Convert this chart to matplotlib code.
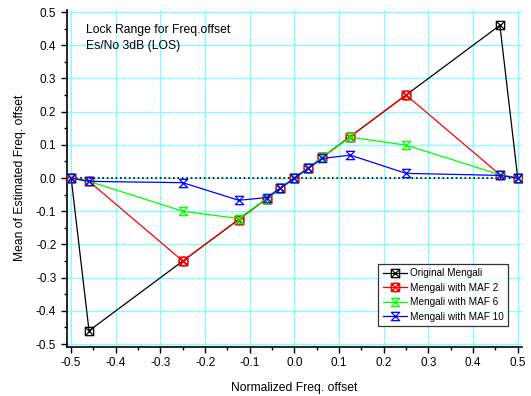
import numpy as np
import matplotlib.pyplot as plt
from matplotlib.path import Path

plt.rcParams['font.family'] = ['Liberation Sans', 'DejaVu Sans']

x = [-0.5, -0.46, -0.25, -0.125, -0.0625, -0.03125, 0.0, 0.03125, 0.0625, 0.125, 0.25, 0.46, 0.5]

orig = [0.0, -0.46, -0.25, -0.125, -0.0625, -0.03125, 0.0, 0.03125, 0.0625, 0.125, 0.25, 0.46, 0.0]
maf2 = [0.0, -0.01, -0.25, -0.125, -0.0625, -0.03125, 0.0, 0.03125, 0.0625, 0.125, 0.25, 0.01, 0.0]
maf6 = [0.0, -0.01, -0.10, -0.122, -0.0625, -0.03125, 0.0, 0.03125, 0.0625, 0.123, 0.099, 0.01, 0.0]
maf10 = [0.0, -0.01, -0.014, -0.067, -0.059, -0.03, 0.0, 0.029, 0.059, 0.069, 0.014, 0.008, 0.0]

labels = ['Original Mengali', 'Mengali with MAF 2', 'Mengali with MAF 6', 'Mengali with MAF 10']
colors = ['black', '#ff0000', '#00ff00', '#0000ff']

ticks = [-0.5, -0.4, -0.3, -0.2, -0.1, 0.0, 0.1, 0.2, 0.3, 0.4, 0.5]
tick_labels = ['-0.5', '-0.4', '-0.3', '-0.2', '-0.1', '0.0', '0.1', '0.2', '0.3', '0.4', '0.5']

# custom marker shapes
sq = [(-1, -1), (1, -1), (1, 1), (-1, 1), (-1, -1)]
square_x = Path(sq + [(-1, -1), (1, 1), (-1, 1), (1, -1)],
                [Path.MOVETO] + [Path.LINETO] * 4 + [Path.MOVETO, Path.LINETO, Path.MOVETO, Path.LINETO])
circ = Path.unit_circle()
cross = Path([(-0.75, -0.75), (0.75, 0.75), (-0.75, 0.75), (0.75, -0.75)],
             [Path.MOVETO, Path.LINETO, Path.MOVETO, Path.LINETO])
sq_frame = Path(sq, [Path.MOVETO] + [Path.LINETO] * 4)
circle_x = Path.make_compound_path(sq_frame, circ, cross)
hourglass = Path([(-1, 1), (1, 1), (-1, -1), (1, -1), (-1, 1)],
                 [Path.MOVETO, Path.LINETO, Path.LINETO, Path.LINETO, Path.LINETO])
markers = [square_x, circle_x, hourglass, hourglass]

fig = plt.figure(figsize=(5.31, 3.96), dpi=100)
ax = fig.add_axes([0.1256, 0.1245, 0.857, 0.851])

ax.plot([-0.51, 0.509], [0, 0], color='black', linestyle=':', linewidth=1.2, zorder=2)

for ys, lab, c, m in zip([orig, maf2, maf6, maf10], labels, colors, markers):
    ax.plot(x, ys, color=c, linewidth=0.9, marker=m, markersize=6,
            markerfacecolor='none', markeredgecolor=c, markeredgewidth=0.9,
            label=lab, zorder=3)

ax.set_xlim(-0.51, 0.509)
ax.set_ylim(-0.508, 0.507)
ax.set_xticks(ticks, tick_labels)
ax.set_yticks(ticks, tick_labels)
ax.set_xticks(np.arange(-0.45, 0.5, 0.1), minor=True)
ax.set_yticks(np.arange(-0.45, 0.5, 0.1), minor=True)
ax.tick_params(which='both', direction='out', labelsize=8.5, width=1)
ax.tick_params(which='major', length=4)
ax.tick_params(which='minor', length=2.5)
ax.grid(True, which='major', color='#80ffff', linewidth=0.9)
ax.set_axisbelow(True)
for s in ['top', 'right']:
    ax.spines[s].set_visible(False)
for s in ['left', 'bottom']:
    ax.spines[s].set_linewidth(1.2)

ax.set_xlabel('Normalized Freq. offset', fontsize=8.7, labelpad=9)
ax.set_ylabel('Mean of Estimated Freq. offset', fontsize=8.7, labelpad=7)

ax.text(0.043, 0.93, 'Lock Range for Freq.offset', transform=ax.transAxes, fontsize=8.7)
ax.text(0.043, 0.883, 'Es/No 3dB (LOS)', transform=ax.transAxes, fontsize=8.7)

leg = ax.legend(loc='lower right', bbox_to_anchor=(0.97, 0.061), fontsize=7.2, frameon=True,
                fancybox=False, edgecolor='black', handlelength=2.4, handletextpad=0.3,
                borderpad=0.45, labelspacing=0.45, borderaxespad=0)
leg.get_frame().set_linewidth(0.9)

fig.savefig('out.png', dpi=100)
